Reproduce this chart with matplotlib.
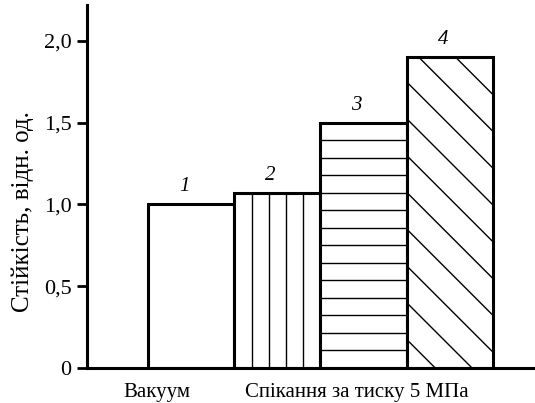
import numpy as np
import matplotlib
matplotlib.use("Agg")
import matplotlib.pyplot as plt

# ------------------------------------------------------------------
# Data
# ------------------------------------------------------------------
bar_ids = ["1", "2", "3", "4"]
bar_pos = [1, 2, 3, 4]
stability = [1.0, 1.07, 1.5, 1.9]
group_labels = ["Вакуум", "Спікання за тиску 5 МПа"]
yticks = [0, 0.5, 1.0, 1.5, 2.0]
ytick_labels = ["0", "0,5", "1,0", "1,5", "2,0"]

plt.rcParams["font.family"] = ["Liberation Serif", "DejaVu Serif"]

fig = plt.figure(figsize=(5.35, 4.03), dpi=100)
ax = fig.add_axes([87 / 535, 35 / 403, 448 / 535, 363 / 403])
ax.set_xlim(-0.21, 4.99)
ax.set_ylim(0, 2.22)

lw = 2.2
bars = ax.bar(bar_pos, stability, width=1.0, color="white",
              edgecolor="black", linewidth=lw, zorder=2)

# hatch lines, clipped to each bar
hatch_kw = dict(color="black", linewidth=1.0, zorder=2.2)

# bar 2: vertical lines
b = bars[1]
x0, w, h = b.get_x(), b.get_width(), b.get_height()
for k in range(1, 5):
    ax.plot([x0 + k * w / 5] * 2, [0, h], **hatch_kw)

# bar 3: horizontal lines
b = bars[2]
x0, w, h = b.get_x(), b.get_width(), b.get_height()
for k in range(1, 14):
    ax.plot([x0, x0 + w], [k * h / 14] * 2, **hatch_kw)

# bar 4: diagonal lines (\), 45 degrees on screen
b = bars[3]
x0, w, h = b.get_x(), b.get_width(), b.get_height()
px_x = 448 / (4.99 + 0.21)
px_y = 363 / 2.22
slope = px_x / px_y
for c in np.arange(1.75 + 0.225 * 3, -w * slope, -0.225):
    ln, = ax.plot([x0, x0 + w], [c, c - w * slope], **hatch_kw)
    ln.set_clip_path(b)

# bar number labels
for p, v, t in zip(bar_pos, stability, bar_ids):
    ax.text(p - 0.08, v + 0.05, t, ha="center", va="bottom",
            fontsize=15, style="italic")

for s in ["top", "right"]:
    ax.spines[s].set_visible(False)
for s in ["left", "bottom"]:
    ax.spines[s].set_linewidth(lw)
    ax.spines[s].set_zorder(3)

ax.set_yticks(yticks)
ax.set_yticklabels(ytick_labels, fontsize=16)
ax.tick_params(axis="y", direction="out", length=7, width=2.0, pad=4)
ax.set_xticks([])

fig.text(157 / 535, 1 - 392 / 403, group_labels[0], ha="center",
         va="center", fontsize=15)
fig.text(357 / 535, 1 - 392 / 403, group_labels[1], ha="center",
         va="center", fontsize=15)
fig.text(23 / 535, 1 - 212 / 403, "Стійкість, відн. од.", rotation=90,
         ha="center", va="center", fontsize=18)

fig.savefig("out.png", dpi=100)
plt.close(fig)
